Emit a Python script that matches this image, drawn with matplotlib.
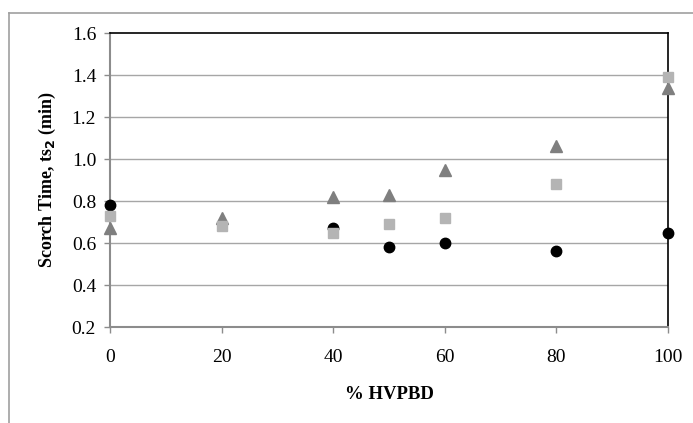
import numpy as np
import matplotlib.pyplot as plt
from matplotlib.lines import Line2D

plt.rcParams['font.family'] = ['Liberation Serif', 'DejaVu Serif']

# % HVPBD
x_circ = [0, 40, 50, 60, 80, 100]
y_circ = [0.78, 0.67, 0.58, 0.60, 0.56, 0.65]

x_sq = [0, 20, 40, 50, 60, 80, 100]
y_sq = [0.73, 0.68, 0.65, 0.69, 0.72, 0.88, 1.39]

x_tri = [0, 20, 40, 50, 60, 80, 100]
y_tri = [0.67, 0.72, 0.82, 0.83, 0.95, 1.06, 1.34]

x_ticks = [0, 20, 40, 60, 80, 100]
y_ticks = [0.2, 0.4, 0.6, 0.8, 1.0, 1.2, 1.4, 1.6]

W, H = 693, 423
fig = plt.figure(figsize=(W / 100, H / 100), dpi=100)
ax = fig.add_axes([110 / W, 1 - 327 / H, (668 - 110) / W, (327 - 33) / H])

# outer chart frame (only left and top edges visible)
fig.add_artist(Line2D([9 / W, 1.0], [1 - 13 / H, 1 - 13 / H], color='#a0a0a0', lw=1.2, transform=fig.transFigure))
fig.add_artist(Line2D([9 / W, 9 / W], [1 - 13 / H, 0.0], color='#a0a0a0', lw=1.2, transform=fig.transFigure))

for yv in y_ticks[1:-1]:
    ax.axhline(yv, color='#a6a6a6', lw=1.0, zorder=1)

ax.plot(x_circ, y_circ, 'o', color='black', ms=7.5, zorder=3, clip_on=False)
ax.plot(x_tri, y_tri, '^', color='#7f7f7f', ms=8, zorder=4, clip_on=False)
ax.plot(x_sq, y_sq, 's', color='#b4b4b4', ms=7, zorder=5, clip_on=False)

ax.set_xlim(0, 100)
ax.set_ylim(0.2, 1.6)
ax.set_xticks(x_ticks)
ax.set_yticks(y_ticks)
ax.set_yticklabels([f'{v:.1f}' for v in y_ticks])

for s in ['left', 'bottom']:
    ax.spines[s].set_color('#8c8c8c')
    ax.spines[s].set_linewidth(1.5)
for s in ['top', 'right']:
    ax.spines[s].set_color('black')
    ax.spines[s].set_linewidth(1.2)

ax.tick_params(axis='both', direction='out', length=4, width=1.0, color='#8c8c8c', labelsize=14)
ax.tick_params(axis='x', pad=12)
ax.tick_params(axis='y', pad=6)

ax.set_xlabel('% HVPBD', fontsize=13.5, fontweight='bold', labelpad=14)
ax.set_ylabel('Scorch Time, ts$_\\mathbf{2}$ (min)', fontsize=13, fontweight='bold', labelpad=10)

fig.savefig('out.png', dpi=100)
